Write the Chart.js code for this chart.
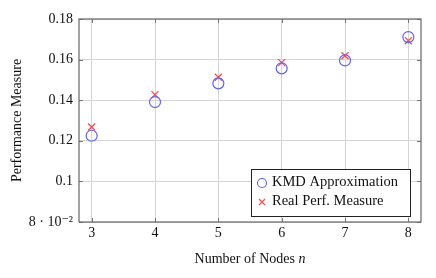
<!DOCTYPE html>
<html>
<head>
<meta charset="utf-8">
<script src="https://cdn.jsdelivr.net/npm/chart.js@4.4.0/dist/chart.umd.min.js"></script>
<style>
  html, body { margin: 0; padding: 0; background: #fff; }
  #wrap { width: 436px; height: 278px; }
</style>
</head>
<body>
<div id="wrap"><canvas id="perfChart" width="436" height="278"></canvas></div>
<script>
// === Data ===
const nodes = [3, 4, 5, 6, 7, 8];
const kmdApprox = [0.1225, 0.1391, 0.1483, 0.1557, 0.1596, 0.1711];
const realPerf = [0.1268, 0.1427, 0.1513, 0.1585, 0.1619, 0.1693];
const yTicks = [0.08, 0.1, 0.12, 0.14, 0.16, 0.18];
const yTickLabels = ["8 \u00b7 10\u207b\u00b2", "0.1", "0.12", "0.14", "0.16", "0.18"];
const seriesNames = ["KMD Approximation", "Real Perf. Measure"];

const FONT = "'Liberation Serif', 'DejaVu Serif', serif";
const BLUE = "rgb(95, 95, 255)";
const RED = "rgb(255, 70, 70)";

// === Frame, inner ticks, legend, x title ===
const framePlugin = {
  id: "frame",
  afterDraw(chart) {
    const { ctx, chartArea: a, scales } = chart;
    ctx.save();
    // inner tick marks
    ctx.strokeStyle = "#777";
    ctx.lineWidth = 1;
    nodes.forEach((n) => {
      const x = Math.round(scales.x.getPixelForValue(n)) + 0.5;
      ctx.beginPath();
      ctx.moveTo(x, a.bottom); ctx.lineTo(x, a.bottom - 4);
      ctx.moveTo(x, a.top); ctx.lineTo(x, a.top + 4);
      ctx.stroke();
    });
    yTicks.forEach((v) => {
      const y = Math.round(scales.y.getPixelForValue(v)) + 0.5;
      ctx.beginPath();
      ctx.moveTo(a.left, y); ctx.lineTo(a.left + 4, y);
      ctx.moveTo(a.right, y); ctx.lineTo(a.right - 4, y);
      ctx.stroke();
    });
    // frame
    ctx.strokeStyle = "#666";
    ctx.lineWidth = 1.2;
    ctx.strokeRect(a.left, a.top, a.right - a.left, a.bottom - a.top);

    // legend box
    const lx = 251, ly = 169, lw = 159, lh = 47;
    ctx.fillStyle = "#fff";
    ctx.fillRect(lx, ly, lw, lh);
    ctx.strokeStyle = "#222";
    ctx.lineWidth = 1;
    ctx.strokeRect(lx + 0.5, ly + 0.5, lw, lh);
    ctx.font = "14.5px " + FONT;
    ctx.fillStyle = "#111";
    ctx.textBaseline = "middle";
    ctx.fillText(seriesNames[0], lx + 21, ly + 13);
    ctx.fillText(seriesNames[1], lx + 21, ly + 32);
    ctx.lineWidth = 1.1;
    ctx.strokeStyle = BLUE;
    ctx.beginPath();
    ctx.arc(lx + 11, ly + 14, 4.5, 0, Math.PI * 2);
    ctx.stroke();
    ctx.strokeStyle = RED;
    ctx.beginPath();
    ctx.moveTo(lx + 8, ly + 30); ctx.lineTo(lx + 14, ly + 36);
    ctx.moveTo(lx + 14, ly + 30); ctx.lineTo(lx + 8, ly + 36);
    ctx.stroke();

    // x axis title with italic n
    const cx = (a.left + a.right) / 2;
    const t1 = "Number of Nodes ";
    ctx.font = "14px " + FONT;
    const w1 = ctx.measureText(t1).width;
    ctx.font = "italic 14px " + FONT;
    const w2 = ctx.measureText("n").width;
    const sx = cx - (w1 + w2) / 2;
    ctx.fillStyle = "#111";
    ctx.font = "14px " + FONT;
    ctx.fillText(t1, sx, 259);
    ctx.font = "italic 14px " + FONT;
    ctx.fillText("n", sx + w1, 259);
    ctx.restore();
  },
};

new Chart(document.getElementById("perfChart"), {
  type: "scatter",
  data: {
    datasets: [
      {
        label: seriesNames[0],
        data: nodes.map((n, i) => ({ x: n, y: kmdApprox[i] })),
        pointStyle: "circle",
        pointRadius: 5.5,
        borderColor: BLUE,
        backgroundColor: "rgba(0,0,0,0)",
        borderWidth: 1.2,
      },
      {
        label: seriesNames[1],
        data: nodes.map((n, i) => ({ x: n, y: realPerf[i] })),
        pointStyle: "crossRot",
        pointRadius: 5,
        borderColor: RED,
        backgroundColor: RED,
        borderWidth: 1.2,
      },
    ],
  },
  options: {
    responsive: false,
    animation: false,
    layout: { padding: { top: 19, right: 15, left: 0, bottom: 0 } },
    plugins: {
      legend: { display: false },
      tooltip: { enabled: false },
    },
    scales: {
      x: {
        type: "linear",
        min: 2.8,
        max: 8.2,
        afterBuildTicks: (s) => { s.ticks = nodes.map((v) => ({ value: v })); },
        afterFit: (s) => { s.height = 56; },
        grid: { color: "#d4d4d4", lineWidth: 1, drawTicks: false },
        border: { display: false },
        ticks: {
          padding: 3,
          color: "#111",
          font: { family: FONT, size: 14 },
          maxRotation: 0,
        },
      },
      y: {
        min: 0.08,
        max: 0.18,
        afterBuildTicks: (s) => { s.ticks = yTicks.map((v) => ({ value: v })); },
        afterFit: (s) => { s.width = 79; },
        grid: { color: "#d4d4d4", lineWidth: 1, drawTicks: false },
        border: { display: false },
        ticks: {
          padding: 6,
          color: "#111",
          font: { family: FONT, size: 14 },
          callback: (v, i) => yTickLabels[i],
        },
        title: {
          display: true,
          text: "Performance Measure",
          color: "#111",
          font: { family: FONT, size: 14 },
          padding: { top: 9, bottom: 0 },
        },
      },
    },
  },
  plugins: [framePlugin],
});
</script>
</body>
</html>
